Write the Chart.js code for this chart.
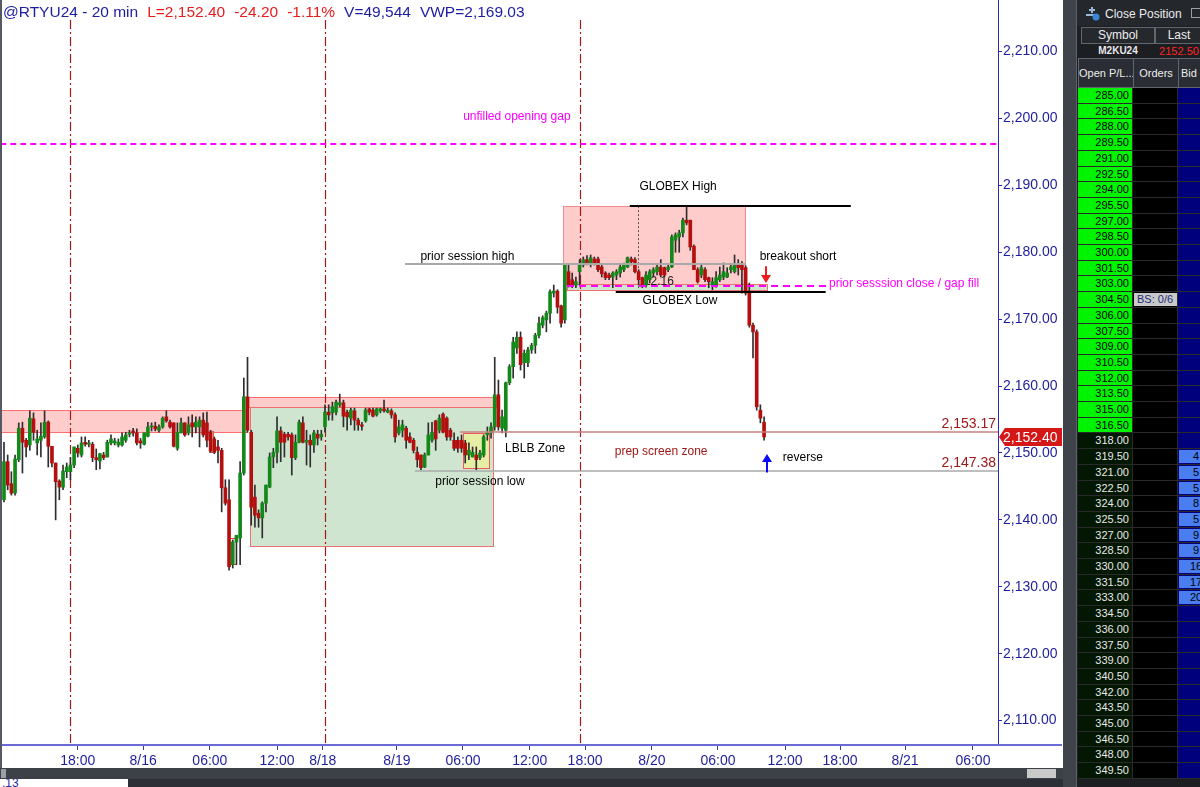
<!DOCTYPE html>
<html>
<head>
<meta charset="utf-8">
<title>@RTYU24 - 20 min</title>
<script src="https://cdn.jsdelivr.net/npm/chart.js@4.4.1/dist/chart.umd.min.js"></script>
<style>
  body { margin: 0; width: 1200px; height: 787px; overflow: hidden; background: #2c2f35; position: relative;
         font-family: 'Liberation Sans', Arial, sans-serif; }
  #chartWrap { position: absolute; left: 0; top: 0; width: 1063px; height: 768px; background: #fff; }
  #chartWrap canvas { position: absolute; left: 0; top: 0; }
  .abs { position: absolute; box-sizing: border-box; }
  .hdr { border: 1px solid #62666d; background: #2a2d33; color: #ededed; font-size: 11px; text-align: center; white-space: nowrap; overflow: hidden; }
  .cell { font-size: 11px; border-bottom: 1px solid #2a2a2a; border-right: 1px solid #2a2a2a; overflow: hidden; white-space: nowrap; }
</style>
</head>
<body>
<div id="chartWrap"><canvas id="chart" width="1062" height="768"></canvas></div>
<div class="abs" style="left:0;top:0;width:2px;height:768px;background:#555a62"></div>

<!-- scrollbar + tab strip under the chart -->
<div class="abs" style="left:0;top:768px;width:1063px;height:11px;background:#3c4047"></div>
<div class="abs" style="left:1px;top:769px;width:5px;height:9px;background:#9a9fa6"></div>
<div class="abs" style="left:1027px;top:769px;width:29px;height:9px;background:#c9c9c9"></div>
<div class="abs" style="left:0;top:779px;width:128px;height:8px;background:#fff;overflow:hidden">
  <div style="font-size:12px;color:#2a2aa0;margin:-3px 0 0 2px">.13</div>
</div>

<!-- DOM ladder on the right -->
<div class="abs" style="left:1063px;top:0;width:14px;height:787px;background:#3f434a;border-right:1px solid #5d6168"></div>
<div class="abs" style="left:1077px;top:0;width:123px;height:787px;background:#1c1e22"></div>
<div class="abs" style="left:1077px;top:0;width:123px;height:26px;background:#24272c"></div>
<svg class="abs" style="left:1086px;top:7px" width="14" height="14" viewBox="0 0 14 14">
  <line x1="6" y1="0" x2="6" y2="6" stroke="#9ab8d8" stroke-width="2"/>
  <line x1="3" y1="3" x2="9" y2="3" stroke="#9ab8d8" stroke-width="2"/>
  <line x1="0" y1="8" x2="9" y2="8" stroke="#9ab8d8" stroke-width="2"/>
  <circle cx="10" cy="10" r="3.5" fill="#3a86d8"/>
</svg>
<div class="abs" style="left:1105px;top:7px;font-size:12px;color:#ececec">Close Position</div>
<div class="abs" style="left:1191px;top:8px;width:11px;height:10px;border:1px solid #9aa0a8"></div>
<div class="abs hdr" style="left:1081px;top:27px;width:74px;height:17px;line-height:15px;background:#25282d;font-size:12px">Symbol</div>
<div class="abs hdr" style="left:1155px;top:27px;width:48px;height:17px;line-height:15px;background:#25282d;font-size:12px">Last</div>
<div class="abs" style="left:1081px;top:44px;width:74px;height:14px;font-size:10px;font-weight:bold;color:#e8e8e8;text-align:center;line-height:14px">M2KU24</div>
<div class="abs" style="left:1155px;top:44px;width:48px;height:14px;font-size:11px;color:#ff2424;text-align:center;line-height:14px">2152.50</div>
<div class="abs hdr" style="left:1078px;top:58px;width:56px;height:30px;line-height:28px">Open P/L...</div>
<div class="abs hdr" style="left:1133px;top:58px;width:46px;height:30px;line-height:28px">Orders</div>
<div class="abs hdr" style="left:1178px;top:58px;width:36px;height:30px;line-height:28px;text-align:left;padding-left:2px">Bid S</div>
<div id="ladder"></div>

<script>
// @RTYU24 20 min bars, 8/15 evening session through 8/20 morning
const opens = [
  2143.0, 2148.7, 2145.4, 2144.0, 2149.0, 2153.7, 2151.9, 2151.2, 2155.1, 2151.5,
  2151.9, 2152.4, 2154.6, 2151.0, 2148.5, 2145.8, 2144.9, 2147.2, 2147.2, 2148.2,
  2150.7, 2149.7, 2151.6, 2151.3, 2151.3, 2149.3, 2148.8, 2149.7, 2149.4, 2151.5,
  2151.5, 2151.2, 2151.2, 2151.9, 2152.8, 2153.3, 2153.0, 2151.8, 2151.3, 2152.5,
  2153.9, 2154.0, 2153.4, 2153.9, 2155.4, 2154.6, 2154.5, 2150.7, 2153.0, 2154.5,
  2153.0, 2154.5, 2153.9, 2153.9, 2154.9, 2154.5, 2153.1, 2152.1, 2150.9, 2150.4,
  2144.8, 2143.0, 2133.3, 2136.7, 2137.3, 2147.0, 2158.4, 2153.1, 2143.4, 2141.0,
  2140.3, 2142.5, 2144.9, 2149.4, 2150.1, 2153.3, 2152.8, 2152.8, 2152.7, 2149.3,
  2151.6, 2154.5, 2151.6, 2151.9, 2151.2, 2152.8, 2152.4, 2153.9, 2156.1, 2156.0,
  2156.1, 2157.2, 2157.5, 2156.1, 2155.2, 2156.3, 2154.9, 2154.2, 2154.8, 2156.6,
  2156.4, 2155.7, 2156.3, 2156.6, 2156.1, 2156.3, 2155.7, 2153.0, 2153.4, 2153.7,
  2152.4, 2151.9, 2150.1, 2149.7, 2147.9, 2149.7, 2151.9, 2154.8, 2153.4, 2155.8,
  2155.2, 2153.4, 2151.9, 2151.9, 2151.9, 2151.5, 2149.7, 2149.4, 2149.7, 2149.3,
  2149.7, 2152.7, 2153.0, 2153.9, 2158.7, 2153.7, 2153.4, 2160.5, 2162.9, 2165.7,
  2167.3, 2163.5, 2163.5, 2165.4, 2166.1, 2167.6, 2169.1, 2169.9, 2170.9, 2173.9,
  2174.2, 2172.0, 2169.9, 2177.1, 2175.9, 2175.1, 2177.1, 2178.1, 2178.9, 2178.4,
  2179.0, 2179.0, 2177.8, 2176.9, 2176.6, 2176.3, 2176.6, 2176.9, 2177.4, 2177.8,
  2179.0, 2178.9, 2177.1, 2176.2, 2175.1, 2175.9, 2176.9, 2177.1, 2177.8, 2177.7,
  2177.4, 2177.8, 2181.8, 2182.3, 2182.9, 2184.8, 2184.8, 2180.9, 2177.4, 2176.6,
  2177.4, 2176.2, 2175.1, 2175.1, 2175.9, 2176.3, 2176.3, 2177.4, 2177.1, 2178.1,
  2178.1, 2177.7, 2174.1, 2169.1, 2168.1, 2156.4, 2154.6
];
const highs = [
  2151.6, 2149.7, 2147.2, 2149.7, 2154.5, 2154.6, 2152.2, 2156.3, 2156.0, 2153.4,
  2154.5, 2156.3, 2154.8, 2151.0, 2148.5, 2146.0, 2148.2, 2148.5, 2149.3, 2150.9,
  2151.2, 2152.4, 2152.4, 2151.9, 2151.6, 2150.6, 2149.9, 2150.1, 2151.9, 2152.7,
  2152.2, 2152.1, 2153.0, 2153.1, 2153.4, 2153.7, 2153.6, 2152.2, 2153.0, 2154.6,
  2154.5, 2154.6, 2154.2, 2155.4, 2156.3, 2154.9, 2154.5, 2154.5, 2155.2, 2154.5,
  2155.4, 2155.7, 2155.4, 2155.4, 2156.0, 2156.1, 2153.4, 2152.4, 2151.9, 2150.7,
  2146.0, 2146.0, 2137.0, 2137.7, 2148.7, 2161.2, 2164.3, 2153.4, 2145.2, 2141.5,
  2142.7, 2145.2, 2150.0, 2150.7, 2155.4, 2153.9, 2153.1, 2153.1, 2153.0, 2152.7,
  2154.9, 2155.4, 2153.4, 2152.7, 2153.4, 2153.4, 2153.4, 2157.2, 2157.2, 2157.6,
  2157.9, 2158.8, 2157.9, 2156.4, 2156.7, 2156.7, 2155.2, 2154.6, 2156.7, 2156.7,
  2156.7, 2156.7, 2156.7, 2157.9, 2156.7, 2156.6, 2156.0, 2154.9, 2154.9, 2154.0,
  2153.0, 2152.2, 2150.9, 2149.7, 2150.0, 2154.5, 2154.6, 2154.9, 2155.7, 2156.0,
  2155.4, 2153.7, 2153.0, 2152.4, 2152.7, 2151.9, 2151.5, 2150.9, 2150.9, 2150.4,
  2152.7, 2153.9, 2154.5, 2164.3, 2160.9, 2156.4, 2160.6, 2163.2, 2167.3, 2168.1,
  2168.1, 2165.4, 2165.8, 2166.4, 2167.9, 2170.3, 2170.5, 2171.2, 2174.4, 2175.1,
  2174.4, 2172.1, 2178.1, 2178.1, 2176.9, 2176.3, 2178.9, 2179.3, 2179.5, 2179.6,
  2179.3, 2179.3, 2178.1, 2177.1, 2176.9, 2177.1, 2177.4, 2178.1, 2178.4, 2179.3,
  2179.3, 2179.2, 2177.4, 2176.3, 2177.1, 2177.4, 2177.7, 2178.1, 2178.9, 2177.8,
  2178.1, 2182.6, 2182.9, 2183.3, 2185.1, 2186.9, 2184.8, 2181.1, 2177.7, 2178.1,
  2177.7, 2176.3, 2176.2, 2177.1, 2177.8, 2178.4, 2177.7, 2178.1, 2179.6, 2178.9,
  2178.6, 2178.0, 2175.4, 2169.4, 2168.4, 2157.2, 2155.4
];
const lows = [
  2142.7, 2144.5, 2143.7, 2143.7, 2148.7, 2147.0, 2149.4, 2150.4, 2151.9, 2149.7,
  2149.4, 2152.2, 2147.9, 2147.9, 2140.0, 2143.0, 2144.5, 2146.3, 2146.0, 2147.8,
  2149.4, 2149.4, 2151.0, 2150.9, 2148.7, 2147.5, 2147.6, 2149.0, 2149.4, 2151.2,
  2151.2, 2150.9, 2151.0, 2151.6, 2152.4, 2152.5, 2151.2, 2150.7, 2151.2, 2152.4,
  2153.3, 2153.3, 2153.1, 2153.7, 2154.6, 2153.7, 2150.9, 2150.4, 2153.0, 2152.5,
  2152.7, 2152.4, 2153.0, 2150.9, 2152.4, 2150.9, 2150.1, 2149.9, 2148.5, 2141.2,
  2142.2, 2132.5, 2132.8, 2133.3, 2133.3, 2146.7, 2153.1, 2139.2, 2138.9, 2138.9,
  2137.3, 2141.2, 2144.8, 2147.8, 2148.5, 2148.7, 2149.4, 2151.9, 2146.7, 2149.0,
  2151.5, 2151.5, 2148.2, 2147.9, 2150.1, 2151.2, 2151.9, 2153.1, 2154.9, 2154.9,
  2155.7, 2156.9, 2153.9, 2153.4, 2154.2, 2153.4, 2153.4, 2153.4, 2154.6, 2155.7,
  2155.4, 2155.5, 2156.0, 2156.1, 2156.0, 2155.2, 2151.6, 2152.7, 2152.4, 2150.7,
  2151.5, 2150.0, 2147.9, 2147.5, 2147.8, 2149.7, 2151.6, 2150.4, 2153.0, 2153.0,
  2151.9, 2151.9, 2150.4, 2150.1, 2150.1, 2148.5, 2149.0, 2149.4, 2147.5, 2149.0,
  2149.4, 2151.9, 2152.2, 2153.4, 2153.4, 2153.0, 2152.4, 2160.2, 2161.2, 2164.9,
  2162.4, 2161.2, 2162.9, 2164.9, 2164.9, 2167.2, 2168.7, 2168.1, 2169.4, 2173.3,
  2170.9, 2168.8, 2169.4, 2174.8, 2174.7, 2174.7, 2175.1, 2177.8, 2178.1, 2177.8,
  2178.1, 2177.1, 2176.3, 2175.9, 2175.9, 2174.7, 2175.9, 2176.3, 2177.1, 2177.7,
  2178.1, 2176.9, 2175.1, 2174.7, 2174.8, 2175.4, 2176.3, 2176.6, 2176.3, 2176.3,
  2177.1, 2177.7, 2180.0, 2180.0, 2182.3, 2184.1, 2180.3, 2177.4, 2175.4, 2176.2,
  2175.6, 2174.7, 2174.4, 2174.8, 2175.6, 2175.9, 2176.2, 2176.9, 2176.9, 2176.6,
  2173.9, 2173.6, 2168.8, 2164.2, 2156.4, 2154.5, 2151.9
];
const closes = [
  2148.7, 2145.2, 2144.0, 2149.1, 2153.7, 2151.6, 2150.9, 2155.2, 2153.1, 2152.1,
  2152.5, 2154.6, 2151.0, 2148.5, 2145.7, 2144.9, 2147.3, 2147.9, 2148.2, 2150.9,
  2150.0, 2151.5, 2151.3, 2151.5, 2149.3, 2149.0, 2149.9, 2149.3, 2151.6, 2152.1,
  2151.8, 2151.6, 2152.4, 2152.7, 2153.0, 2153.0, 2151.5, 2151.5, 2153.0, 2153.9,
  2154.0, 2153.6, 2153.9, 2155.2, 2154.8, 2153.9, 2151.0, 2153.1, 2154.5, 2152.7,
  2154.2, 2153.9, 2154.6, 2154.9, 2152.7, 2151.9, 2150.3, 2150.1, 2150.4, 2144.8,
  2142.5, 2133.0, 2136.7, 2137.7, 2147.0, 2158.4, 2153.4, 2141.9, 2140.7, 2140.3,
  2142.5, 2145.2, 2149.4, 2150.1, 2153.3, 2151.6, 2151.6, 2152.4, 2149.3, 2151.6,
  2154.6, 2151.6, 2151.9, 2151.2, 2153.0, 2152.2, 2152.8, 2156.1, 2155.7, 2156.9,
  2157.6, 2157.5, 2155.5, 2155.4, 2156.4, 2154.9, 2154.2, 2154.0, 2156.4, 2156.1,
  2155.5, 2156.6, 2156.6, 2156.3, 2156.4, 2155.7, 2152.4, 2153.9, 2154.2, 2151.9,
  2151.6, 2150.4, 2149.0, 2147.8, 2149.7, 2152.7, 2153.1, 2152.1, 2155.2, 2153.1,
  2152.4, 2152.4, 2150.7, 2150.7, 2150.7, 2149.7, 2150.4, 2150.1, 2149.0, 2150.0,
  2152.4, 2153.0, 2153.9, 2158.7, 2153.9, 2155.4, 2160.5, 2162.9, 2166.6, 2167.3,
  2163.2, 2164.9, 2165.4, 2166.1, 2167.6, 2169.4, 2170.2, 2170.9, 2174.1, 2174.2,
  2171.8, 2169.4, 2178.1, 2175.1, 2175.1, 2175.6, 2178.1, 2178.9, 2178.4, 2179.2,
  2178.4, 2177.4, 2176.8, 2176.2, 2176.2, 2176.9, 2177.1, 2177.8, 2178.1, 2179.2,
  2178.6, 2177.1, 2175.9, 2175.1, 2176.6, 2177.1, 2177.4, 2177.8, 2176.6, 2176.6,
  2177.8, 2182.3, 2182.6, 2182.9, 2184.8, 2184.4, 2180.8, 2177.4, 2175.6, 2177.7,
  2175.9, 2175.6, 2175.6, 2176.2, 2176.6, 2177.1, 2176.9, 2177.8, 2178.1, 2177.7,
  2177.4, 2173.9, 2169.1, 2168.1, 2156.9, 2155.2, 2152.4
];

// time axis: label text and the bar number it sits on
const timeLabels = ['18:00', '8/16', '06:00', '12:00', '8/18', '8/19', '06:00', '12:00', '18:00', '8/20', '06:00', '12:00', '18:00', '8/21', '06:00'];
const timeBars = [20, 37.7, 55.8, 74, 86.4, 106.5, 124.4, 142.5, 157.5, 175.6, 193.5, 211.7, 226.6, 244.2, 262.6];
const priceTicks = [2110, 2120, 2130, 2140, 2150, 2160, 2170, 2180, 2190, 2200, 2210];
const sessionStarts = [18, 87, 156.1];
const lastPrice = 2152.40;

// ladder (right panel)
const ladderPrices = ['285.00', '286.50', '288.00', '289.50', '291.00', '292.50', '294.00', '295.50', '297.00', '298.50',
  '300.00', '301.50', '303.00', '304.50', '306.00', '307.50', '309.00', '310.50', '312.00', '313.50',
  '315.00', '316.50', '318.00', '319.50', '321.00', '322.50', '324.00', '325.50', '327.00', '328.50',
  '330.00', '331.50', '333.00', '334.50', '336.00', '337.50', '339.00', '340.50', '342.00', '343.50',
  '345.00', '346.50', '348.00', '349.50'];
const greenRows = 22;
const bidPrices = ['319.50', '321.00', '322.50', '324.00', '325.50', '327.00', '328.50', '330.00', '331.50', '333.00'];
const bidQty = [4, 5, 5, 8, 5, 9, 9, 16, 17, 20];
const orderPrice = '304.50';
const orderText = 'BS: 0/6';

// drawing-tool objects, in bar / price units
const zones = [
  { x0: -1, x1: 65.9, y0: 2153.2, y1: 2156.35, fill: '#ffcccc', line: '#ff6e6e' },
  { x0: 66.1, x1: 133.3, y0: 2156.8, y1: 2158.4, fill: '#ffcccc', line: '#ff6e6e' },
  { x0: 66.7, x1: 132.5, y0: 2136.1, y1: 2156.9, fill: '#cfe5cf', line: '#f07070' },
  { x0: 151.5, x1: 200.8, y0: 2174.3, y1: 2186.9, fill: '#ffcccc', line: '#f28c8c' },
  { x0: 152.6, x1: 206.8, y0: 2174.3, y1: 2175.2, fill: '#cfe5cf', line: '#f07070' },
  { x0: 124.4, x1: 131.4, y0: 2147.75, y1: 2153.05, fill: '#e6eea6', line: '#f05a5a' },
  { x0: 55.5, x1: 56.6, y0: 2150.1, y1: 2153.3, fill: '#eef0a0', line: '#f05a5a' },
  { x0: 60.6, x1: 62.8, y0: 2133.4, y1: 2137.3, fill: null, line: '#ff3030' }
];
const hLines = [
  { x0: 108.7, x1: 201, y: 2178.2, color: '#a9a9a9', width: 2 },
  { x0: 169.6, x1: 229.5, y: 2186.9, color: '#000000', width: 2 },
  { x0: 165.8, x1: 222.7, y: 2174.05, color: '#000000', width: 2 },
  { x0: 123.6, x1: 275, y: 2153.17, color: '#c98080', width: 1.5 },
  { x0: 111.4, x1: 275, y: 2147.38, color: '#a8a8a8', width: 1.5 },
  { x0: -1, x1: 275, y: 2196.2, color: '#ff00ff', width: 2, dash: [6, 4] },
  { x0: 152.6, x1: 223.3, y: 2174.95, color: '#ff00ff', width: 2, dash: [7, 5] }
];
const notes = [
  { t: 'unfilled opening gap', x: 139, y: 2200.2, color: '#ff00ff' },
  { t: 'prior session high', x: 125.6, y: 2179.35, color: '#000' },
  { t: 'GLOBEX High', x: 182.7, y: 2189.75, color: '#000' },
  { t: 'GLOBEX Low', x: 183.2, y: 2172.7, color: '#000' },
  { t: 'breakout short', x: 215.2, y: 2179.35, color: '#000' },
  { t: 'prior sesssion close / gap fill', x: 223.6, y: 2175.25, color: '#ff00ff', align: 'left' },
  { t: 'LBLB Zone', x: 135.8, y: 2150.6, color: '#000', align: 'left' },
  { t: 'prep screen zone', x: 178.1, y: 2150.15, color: '#a01818' },
  { t: 'prior session low', x: 129, y: 2145.7, color: '#000' },
  { t: 'reverse', x: 216.5, y: 2149.25, color: '#000' }
];
const levelTags = [
  { t: '2,153.17', y: 2154.33 },
  { t: '2,147.38', y: 2148.5 }
];
const arrows = [
  { x: 206.6, from: 2177.9, to: 2175.4, color: '#ee1c1c' },
  { x: 206.8, from: 2147.1, to: 2149.85, color: '#0a0aff' }
];
const titleParts = [
  ['@RTYU24 - 20 min', '#1c1ca4'], ['L=2,152.40', '#e81c1c'], ['-24.20', '#e81c1c'],
  ['-1.11%', '#e81c1c'], ['V=49,544', '#1c1ca4'], ['VWP=2,169.03', '#1c1ca4']
];

const UP = '#13891a', DOWN = '#b30f0f', WICK = '#2e2e2e';
const FONT = "'Liberation Sans', Arial, sans-serif";
Chart.defaults.font.family = FONT;

function fmtPrice(v) {
  return v.toFixed(2).replace(/\B(?=(\d{3})+(?!\d))/, ',');
}

function drawArrow(ctx, px, yFrom, yTo, color) {
  const dir = yTo > yFrom ? 1 : -1;
  ctx.strokeStyle = color;
  ctx.fillStyle = color;
  ctx.lineWidth = 2;
  ctx.beginPath();
  ctx.moveTo(px, yFrom);
  ctx.lineTo(px, yTo - dir * 6);
  ctx.stroke();
  ctx.beginPath();
  ctx.moveTo(px - 5, yTo - dir * 8);
  ctx.lineTo(px + 5, yTo - dir * 8);
  ctx.lineTo(px, yTo);
  ctx.closePath();
  ctx.fill();
}

const overlay = {
  id: 'overlay',
  beforeDatasetsDraw(chart) {
    const { ctx, chartArea: a, scales: { x, y } } = chart;
    ctx.save();
    ctx.beginPath();
    ctx.rect(a.left, a.top, a.right - a.left, a.bottom - a.top);
    ctx.clip();
    zones.forEach(z => {
      const l = Math.round(x.getPixelForValue(z.x0)), r = Math.round(x.getPixelForValue(z.x1));
      const t = Math.round(y.getPixelForValue(z.y1)), b = Math.round(y.getPixelForValue(z.y0));
      if (z.fill) {
        ctx.fillStyle = z.fill;
        ctx.fillRect(l, t, r - l, b - t);
      }
      ctx.strokeStyle = z.line;
      ctx.lineWidth = 1;
      ctx.strokeRect(l + 0.5, t + 0.5, r - l, b - t);
    });
    // session breaks
    ctx.strokeStyle = '#a31a1a';
    ctx.lineWidth = 1.2;
    ctx.setLineDash([9, 3, 2, 3]);
    sessionStarts.forEach(s => {
      const px = Math.round(x.getPixelForValue(s)) + 0.5;
      ctx.beginPath();
      ctx.moveTo(px, a.top + 20);
      ctx.lineTo(px, a.bottom);
      ctx.stroke();
    });
    // dotted marker in the globex box
    ctx.strokeStyle = '#555';
    ctx.lineWidth = 1;
    ctx.setLineDash([2, 2]);
    const dx = Math.round(x.getPixelForValue(171.8)) + 0.5;
    ctx.beginPath();
    ctx.moveTo(dx, y.getPixelForValue(2186.9));
    ctx.lineTo(dx, y.getPixelForValue(2174.4));
    ctx.stroke();
    ctx.setLineDash([]);
    ctx.fillStyle = '#222';
    ctx.font = '12px ' + FONT;
    ctx.textBaseline = 'middle';
    ctx.textAlign = 'left';
    ctx.fillText('12.16', x.getPixelForValue(173.4), y.getPixelForValue(2175.6));
    ctx.restore();
  },
  afterDatasetsDraw(chart) {
    const { ctx, chartArea: a, scales: { x, y } } = chart;
    ctx.save();
    ctx.beginPath();
    ctx.rect(a.left, a.top, a.right - a.left, a.bottom - a.top);
    ctx.clip();
    hLines.forEach(h => {
      const py = Math.round(y.getPixelForValue(h.y)) + (h.width === 1 ? 0.5 : 0);
      ctx.strokeStyle = h.color;
      ctx.lineWidth = h.width;
      ctx.setLineDash(h.dash || []);
      ctx.beginPath();
      ctx.moveTo(x.getPixelForValue(h.x0), py);
      ctx.lineTo(x.getPixelForValue(h.x1), py);
      ctx.stroke();
    });
    ctx.setLineDash([]);
    ctx.font = '12px ' + FONT;
    ctx.textBaseline = 'middle';
    notes.forEach(n => {
      ctx.fillStyle = n.color;
      ctx.textAlign = n.align || 'center';
      ctx.fillText(n.t, x.getPixelForValue(n.x), y.getPixelForValue(n.y));
    });
    ctx.font = '14px ' + FONT;
    ctx.textAlign = 'right';
    ctx.fillStyle = '#a01818';
    levelTags.forEach(l => ctx.fillText(l.t, a.right - 2, y.getPixelForValue(l.y)));
    arrows.forEach(r => drawArrow(ctx, Math.round(x.getPixelForValue(r.x)), y.getPixelForValue(r.from), y.getPixelForValue(r.to), r.color));
    ctx.restore();
  },
  afterDraw(chart) {
    const { ctx, chartArea: a, scales: { y } } = chart;
    ctx.save();
    // axis line runs on under the price scale
    ctx.strokeStyle = '#6b6bd6';
    ctx.lineWidth = 2;
    ctx.beginPath();
    ctx.moveTo(a.right, a.bottom);
    ctx.lineTo(chart.width, a.bottom);
    ctx.stroke();
    // last price tag
    const py = Math.round(y.getPixelForValue(lastPrice));
    ctx.fillStyle = '#d41717';
    ctx.beginPath();
    ctx.moveTo(a.right + 1, py);
    ctx.lineTo(a.right + 7, py - 9);
    ctx.lineTo(chart.width, py - 9);
    ctx.lineTo(chart.width, py + 9);
    ctx.lineTo(a.right + 7, py + 9);
    ctx.closePath();
    ctx.fill();
    ctx.fillStyle = '#fff';
    ctx.font = '14px ' + FONT;
    ctx.textAlign = 'left';
    ctx.textBaseline = 'middle';
    ctx.fillText(fmtPrice(lastPrice), a.right + 5, py + 1);
    // title line
    ctx.font = '15.5px ' + FONT;
    let tx = 3;
    titleParts.forEach(([t, c]) => {
      ctx.fillStyle = c;
      ctx.fillText(t, tx, 13);
      tx += ctx.measureText(t).width + 9;
    });
    ctx.restore();
  }
};

const wickData = opens.map((_, i) => ({ x: i, y: [lows[i], highs[i]] }));
const bodyData = opens.map((o, i) => ({ x: i, y: [o, closes[i]] }));
const bodyColors = opens.map((o, i) => (closes[i] >= o ? UP : DOWN));

new Chart(document.getElementById('chart'), {
  type: 'bar',
  data: {
    datasets: [
      { label: 'wick', data: wickData, backgroundColor: WICK, barThickness: 1, grouped: false, minBarLength: 1, order: 2 },
      { label: 'body', data: bodyData, backgroundColor: bodyColors, barThickness: 3, grouped: false, minBarLength: 1, order: 1 }
    ]
  },
  options: {
    responsive: false,
    animation: false,
    devicePixelRatio: 1,
    events: [],
    layout: { padding: { left: 2, top: 0, right: 0, bottom: 0 } },
    plugins: { legend: { display: false }, tooltip: { enabled: false } },
    scales: {
      x: {
        type: 'linear',
        min: -0.54,
        max: 269.4,
        offset: false,
        grid: { offset: false, drawOnChartArea: false, tickLength: 5, color: '#3a3aa8' },
        border: { color: '#6b6bd6', width: 2 },
        afterBuildTicks: s => { s.ticks = timeBars.map(v => ({ value: v })); },
        afterFit: s => { s.height = 23; s.paddingLeft = 0; s.paddingRight = 0; },
        ticks: {
          autoSkip: false,
          maxRotation: 0,
          padding: 3,
          color: '#1e1e9c',
          font: { size: 14 },
          callback: (v, i) => timeLabels[i]
        }
      },
      y: {
        position: 'right',
        min: 2106.35,
        max: 2217.71,
        grid: { drawOnChartArea: false, tickLength: 4, color: '#2b2bb0' },
        border: { color: '#2b2bb0', width: 1 },
        afterBuildTicks: s => { s.ticks = priceTicks.map(v => ({ value: v })); },
        afterFit: s => { s.width = 64; s.paddingTop = 0; s.paddingBottom = 0; },
        ticks: {
          padding: 1,
          color: '#1e1e9c',
          font: { size: 14 },
          callback: v => fmtPrice(v)
        }
      }
    }
  },
  plugins: [overlay]
});

// ladder rows
let rows = '';
ladderPrices.forEach((p, k) => {
  const top = Math.round(88 + k * 15.7);
  const h = Math.round(88 + (k + 1) * 15.7) - top;
  const g = k < greenRows;
  const bi = bidPrices.indexOf(p);
  rows += `<div class="abs cell" style="left:1078px;top:${top}px;width:55px;height:${h}px;line-height:${h - 1}px;` +
    `background:${g ? '#00f400' : '#031703'};color:${g ? '#000' : '#e8e8e8'};text-align:right;padding-right:3px">${p}</div>`;
  rows += `<div class="abs cell" style="left:1133px;top:${top}px;width:45px;height:${h}px;background:#000">` +
    (p === orderPrice ? `<div style="margin:1px 0 0 1px;height:${h - 3}px;line-height:${h - 3}px;background:#c9c9c9;color:#1d2d7a;padding-left:3px">${orderText}</div>` : '') +
    `</div>`;
  rows += `<div class="abs cell" style="left:1178px;top:${top}px;width:36px;height:${h}px;background:#00007c">` +
    (bi >= 0 ? `<div style="margin:1px 0 0 1px;height:${h - 3}px;line-height:${h - 3}px;background:#4a7ef0;color:#000;text-align:center">${bidQty[bi]}</div>` : '') +
    `</div>`;
});
document.getElementById('ladder').innerHTML = rows;
</script>
</body>
</html>
